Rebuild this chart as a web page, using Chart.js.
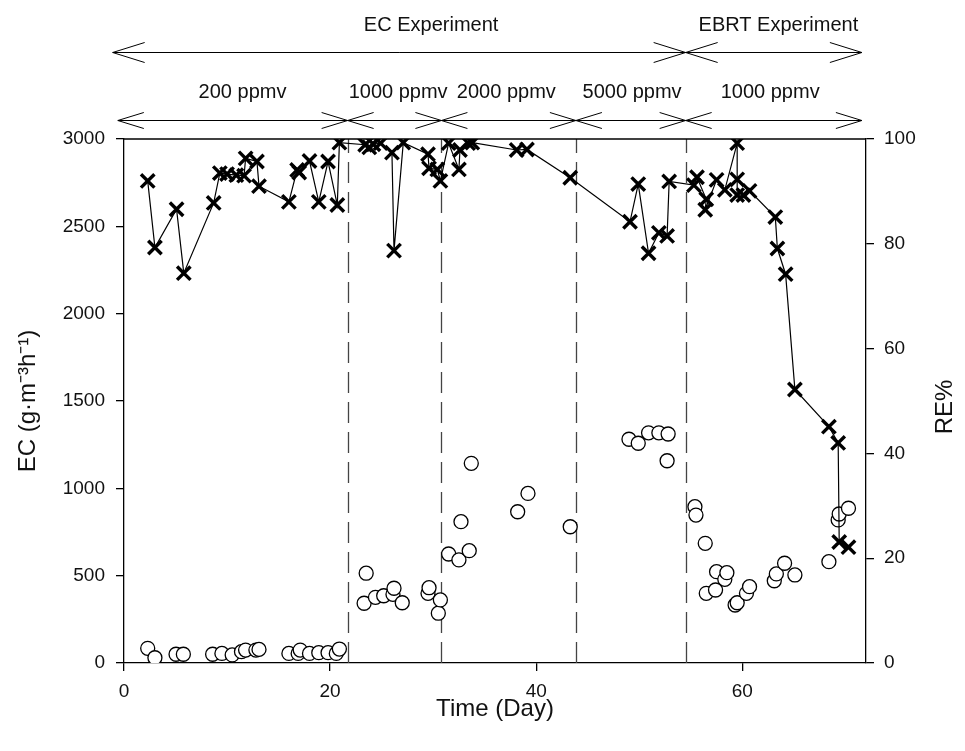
<!DOCTYPE html>
<html>
<head>
<meta charset="utf-8">
<script src="https://cdn.jsdelivr.net/npm/chart.js@4.4.1/dist/chart.umd.min.js"></script>
<style>
  body { margin: 0; background: #fff; }
  canvas { display: block; }
</style>
</head>
<body>
<canvas id="chart" width="965" height="751"></canvas>
<script>
// EC (left axis, open circles)
const ecDays = [2.3, 3.0, 5.05, 5.76, 8.6, 9.5, 10.5, 11.4, 11.8, 12.8, 13.1, 16.0, 16.9, 17.1, 18.0, 18.9, 19.8, 20.6, 20.9,
  23.3, 23.5, 24.4, 25.2, 26.1, 26.2, 27.0, 29.5, 29.6, 30.5, 30.7,
  31.5, 32.5, 32.7, 33.5, 33.7, 38.2, 39.2, 43.3,
  49.0, 49.9, 50.9, 51.9, 52.7, 52.8,
  55.4, 55.5, 56.4, 56.5, 57.4, 57.5, 58.3, 58.5, 59.3, 59.5, 60.4, 60.7, 63.1, 63.3, 64.1, 65.1, 68.4, 69.3, 69.4, 70.3];
const ecValues = [84, 30, 50, 50, 50, 55, 46, 65, 74, 74, 78, 55, 55, 74, 55, 59, 59, 55, 80,
  342, 514, 376, 385, 393, 428, 345, 399, 431, 285, 361,
  624, 590, 809, 643, 1143, 866, 971, 780,
  1281, 1258, 1318, 1318, 1158, 1311,
  895, 847, 685, 399, 418, 523, 479, 517, 332, 345, 399, 437, 471, 510, 571, 504, 580, 819, 853, 886];

// RE% (right axis, crosses joined by a line)
const reDays = [2.3, 3.0, 5.1, 5.8, 8.7, 9.3, 10.0, 10.9, 11.65, 11.8, 12.9, 13.1, 16.0, 16.8, 17.0, 18.0, 18.9, 19.8, 20.7, 20.9,
  23.4, 23.8, 24.2, 24.9, 26.0, 26.2, 27.1, 29.5, 29.6, 30.4, 30.7, 31.5, 32.5, 32.6, 33.4, 33.8, 38.1, 39.1, 43.3,
  49.1, 49.9, 50.9, 51.9, 52.7, 52.9,
  55.3, 55.6, 56.5, 56.4, 57.5, 58.3, 59.5, 59.5, 59.5, 60.1, 60.7, 63.2, 63.4, 64.2, 65.1, 68.4, 69.3, 69.4, 70.3];
const reValues = [92.0, 79.3, 86.6, 74.4, 87.8, 93.5, 93.3, 93.1, 93.0, 96.3, 95.7, 91.0, 88.0, 94.1, 93.6, 95.8, 88.0, 95.7, 87.4, 99.3,
  98.9, 98.4, 99.0, 99.2, 97.4, 78.7, 99.3, 97.1, 94.4, 94.2, 92.0, 99.2, 94.2, 97.9, 99.2, 99.3, 97.9, 98.0, 92.6,
  84.2, 91.4, 78.2, 82.1, 81.5, 91.9,
  91.2, 92.7, 88.5, 86.5, 92.2, 90.3, 99.2, 92.3, 89.3, 89.3, 90.1, 85.1, 79.1, 74.2, 52.2, 45.1, 42.0, 23.1, 22.1];

const xTicks = [0, 20, 40, 60];
const phaseBounds = [21.7, 30.8, 43.85, 54.5];
const phaseLabels = ['200 ppmv', '1000 ppmv', '2000 ppmv', '5000 ppmv', '1000 ppmv'];
const phaseLabelAt = [11.5, 26.6, 37.1, 49.3, 62.7];
const expLabels = ['EC Experiment', 'EBRT Experiment'];
const expLabelAt = [29.8, 63.5];
const expBounds = [-1.1, 54.5, 71.6];
const phaseEdges = [-0.6, 21.7, 30.8, 43.85, 54.5, 71.6];

const FONT = "'Liberation Sans', Arial, sans-serif";

function arrow(ctx, x1, x2, y, len, h) {
  ctx.beginPath();
  ctx.moveTo(x1, y); ctx.lineTo(x2, y);
  ctx.moveTo(x1 + len, y - h); ctx.lineTo(x1, y); ctx.lineTo(x1 + len, y + h);
  ctx.moveTo(x2 - len, y - h); ctx.lineTo(x2, y); ctx.lineTo(x2 - len, y + h);
  ctx.stroke();
}

const overlay = {
  id: 'overlay',
  beforeDatasetsDraw(chart) {
    const { ctx, chartArea: a, scales: { x } } = chart;
    ctx.save();
    ctx.strokeStyle = '#444';
    ctx.lineWidth = 1.3;
    ctx.setLineDash([21, 9]);
    phaseBounds.forEach(d => {
      const px = Math.round(x.getPixelForValue(d)) + 0.5;
      ctx.beginPath();
      ctx.moveTo(px, a.bottom);
      ctx.lineTo(px, a.top);
      ctx.stroke();
    });
    ctx.restore();
  },
  afterDraw(chart) {
    const { ctx, chartArea: a, scales: { x } } = chart;
    ctx.save();
    ctx.strokeStyle = '#000';
    ctx.lineWidth = 1.3;
    ctx.beginPath();
    ctx.moveTo(a.left, a.top);
    ctx.lineTo(a.right, a.top);
    ctx.stroke();

    ctx.lineWidth = 1;
    for (let i = 0; i < expBounds.length - 1; i++) {
      arrow(ctx, x.getPixelForValue(expBounds[i]), x.getPixelForValue(expBounds[i + 1]), 52.5, 32, 10);
    }
    for (let i = 0; i < phaseEdges.length - 1; i++) {
      arrow(ctx, x.getPixelForValue(phaseEdges[i]), x.getPixelForValue(phaseEdges[i + 1]), 120.5, 26, 8);
    }

    ctx.fillStyle = '#111';
    ctx.textAlign = 'center';
    ctx.textBaseline = 'middle';
    ctx.font = '20px ' + FONT;
    expLabels.forEach((t, i) => ctx.fillText(t, x.getPixelForValue(expLabelAt[i]), 25));
    phaseLabels.forEach((t, i) => ctx.fillText(t, x.getPixelForValue(phaseLabelAt[i]), 92));

    // right axis title reads bottom-to-top like the left one
    ctx.font = '24px ' + FONT;
    ctx.translate(945, (a.top + a.bottom) / 2 + 6);
    ctx.rotate(-Math.PI / 2);
    ctx.fillText('RE%', 0, 0);
    ctx.restore();
  }
};

const tickFont = { family: FONT, size: 19 };
const titleFont = { family: FONT, size: 24 };
const plain = v => String(v);

new Chart(document.getElementById('chart'), {
  type: 'scatter',
  data: {
    datasets: [
      {
        label: 'RE%',
        data: reDays.map((d, i) => ({ x: d, y: reValues[i] })),
        yAxisID: 'y2',
        showLine: true,
        borderColor: '#000',
        borderWidth: 1.2,
        pointStyle: 'crossRot',
        pointRadius: 9.5,
        pointBorderWidth: 3.4,
        pointBorderColor: '#000',
        order: 1
      },
      {
        label: 'EC',
        data: ecDays.map((d, i) => ({ x: d, y: ecValues[i] })),
        yAxisID: 'y',
        showLine: false,
        pointStyle: 'circle',
        pointRadius: 7,
        pointBorderWidth: 1.3,
        pointBorderColor: '#000',
        pointBackgroundColor: '#fff',
        order: 2
      }
    ]
  },
  options: {
    responsive: false,
    animation: false,
    devicePixelRatio: 1,
    layout: { padding: { top: 139, left: 0, right: 0, bottom: 0 } },
    plugins: { legend: { display: false }, tooltip: { enabled: false } },
    scales: {
      x: {
        type: 'linear',
        min: 0,
        max: 72,
        afterBuildTicks: s => { s.ticks = xTicks.map(v => ({ value: v })); },
        afterFit: s => { s.height = 88; },
        grid: { drawOnChartArea: false, drawTicks: true, tickLength: 8, color: '#000', lineWidth: 1.3 },
        border: { display: true, color: '#000', width: 1.3 },
        ticks: { font: tickFont, color: '#111', padding: 9, maxRotation: 0, callback: plain },
        title: { display: true, text: 'Time (Day)', font: titleFont, color: '#111', padding: { top: 0, bottom: 27 } }
      },
      y: {
        position: 'left',
        min: 0,
        max: 3000,
        afterFit: s => { s.width = 124; },
        grid: { drawOnChartArea: false, drawTicks: true, tickLength: 8, color: '#000', lineWidth: 1.3 },
        border: { display: true, color: '#000', width: 1.3 },
        ticks: { stepSize: 500, font: tickFont, color: '#111', padding: 11, callback: plain },
        title: { display: true, text: 'EC (g·m⁻³h⁻¹)', font: titleFont, color: '#111', padding: { top: 14, bottom: 0 } }
      },
      y2: {
        position: 'right',
        min: 0,
        max: 100,
        afterFit: s => { s.width = 99; },
        grid: { drawOnChartArea: false, drawTicks: true, tickLength: 8, color: '#000', lineWidth: 1.3 },
        border: { display: true, color: '#000', width: 1.3 },
        ticks: { stepSize: 20, font: tickFont, color: '#111', padding: 10, callback: plain },
        title: { display: false }
      }
    }
  },
  plugins: [overlay]
});
</script>
</body>
</html>
